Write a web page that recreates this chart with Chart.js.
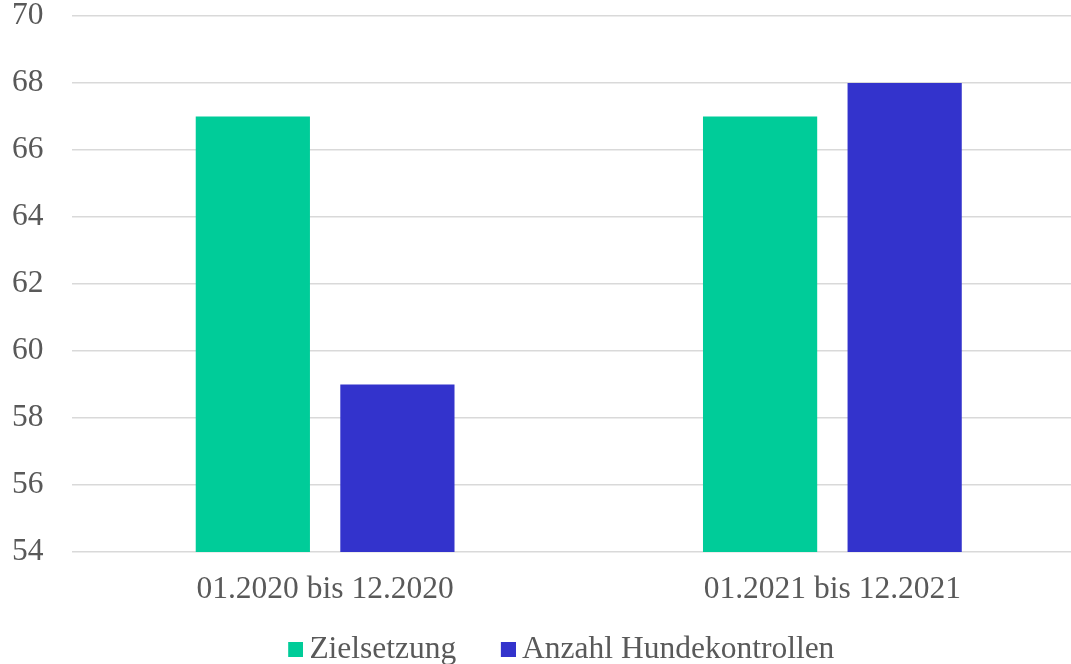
<!DOCTYPE html>
<html>
<head>
<meta charset="utf-8">
<script src="https://cdn.jsdelivr.net/npm/chart.js@4/dist/chart.umd.min.js"></script>
<style>
html,body{margin:0;padding:0;background:#fff;overflow:hidden;width:1071px;height:664px;}
#wrap{position:relative;width:1086px;height:664px;}
</style>
</head>
<body>
<div id="wrap"><canvas id="c"></canvas></div>
<script>
const categories = ["01.2020 bis 12.2020", "01.2021 bis 12.2021"];
const zielsetzung = [67, 67];
const hundekontrollen = [59, 68];
const seriesNames = ["Zielsetzung", "Anzahl Hundekontrollen"];
const yMin = 54, yMax = 70, yStep = 2;

const colors = ["#00CC99", "#3333CC"];
// legend marker: square placed at the right of a wider transparent image
function box(color){
  const cv = document.createElement('canvas');
  cv.width = 49; cv.height = 15;
  const g = cv.getContext('2d');
  g.fillStyle = color; g.fillRect(34,0,15,15);
  return cv;
}
const boxes = colors.map(box);

const font = {family: "'Liberation Serif', 'Times New Roman', serif", size: 31.5, lineHeight: 1.0};

new Chart(document.getElementById('c'), {
  type: 'bar',
  data: {
    labels: categories,
    datasets: [
      {label: seriesNames[0], data: zielsetzung, backgroundColor: colors[0], pointStyle: boxes[0],
       categoryPercentage: 0.57, barPercentage: 0.79},
      {label: seriesNames[1], data: hundekontrollen, backgroundColor: colors[1], pointStyle: boxes[1],
       categoryPercentage: 0.57, barPercentage: 0.79}
    ]
  },
  options: {
    responsive: true,
    maintainAspectRatio: false,
    animation: false,
    layout: {padding: {left: 12, right: 0, top: 0, bottom: -11}},
    plugins: {
      tooltip: {enabled: false},
      legend: {
        position: 'bottom',
        labels: {
          usePointStyle: true,
          pointStyleWidth: 30,
          color: '#595959',
          font: font,
          padding: 20
        }
      }
    },
    scales: {
      x: {
        grid: {display: false, drawTicks: false},
        border: {display: false},
        ticks: {color: '#595959', font: font, padding: 22},
        afterFit(s){ s.paddingLeft = 0; s.paddingRight = 0; s.height -= 14; }
      },
      y: {
        min: yMin, max: yMax,
        ticks: {stepSize: yStep, color: '#595959', font: font, padding: 28},
        grid: {color: '#d9d9d9', lineWidth: 1.5, drawTicks: false},
        border: {display: false},
        afterFit(s){ s.paddingTop = 16; s.paddingBottom = 0; s.width -= s.options.ticks.padding; }
      }
    }
  }
});
</script>
</body>
</html>
